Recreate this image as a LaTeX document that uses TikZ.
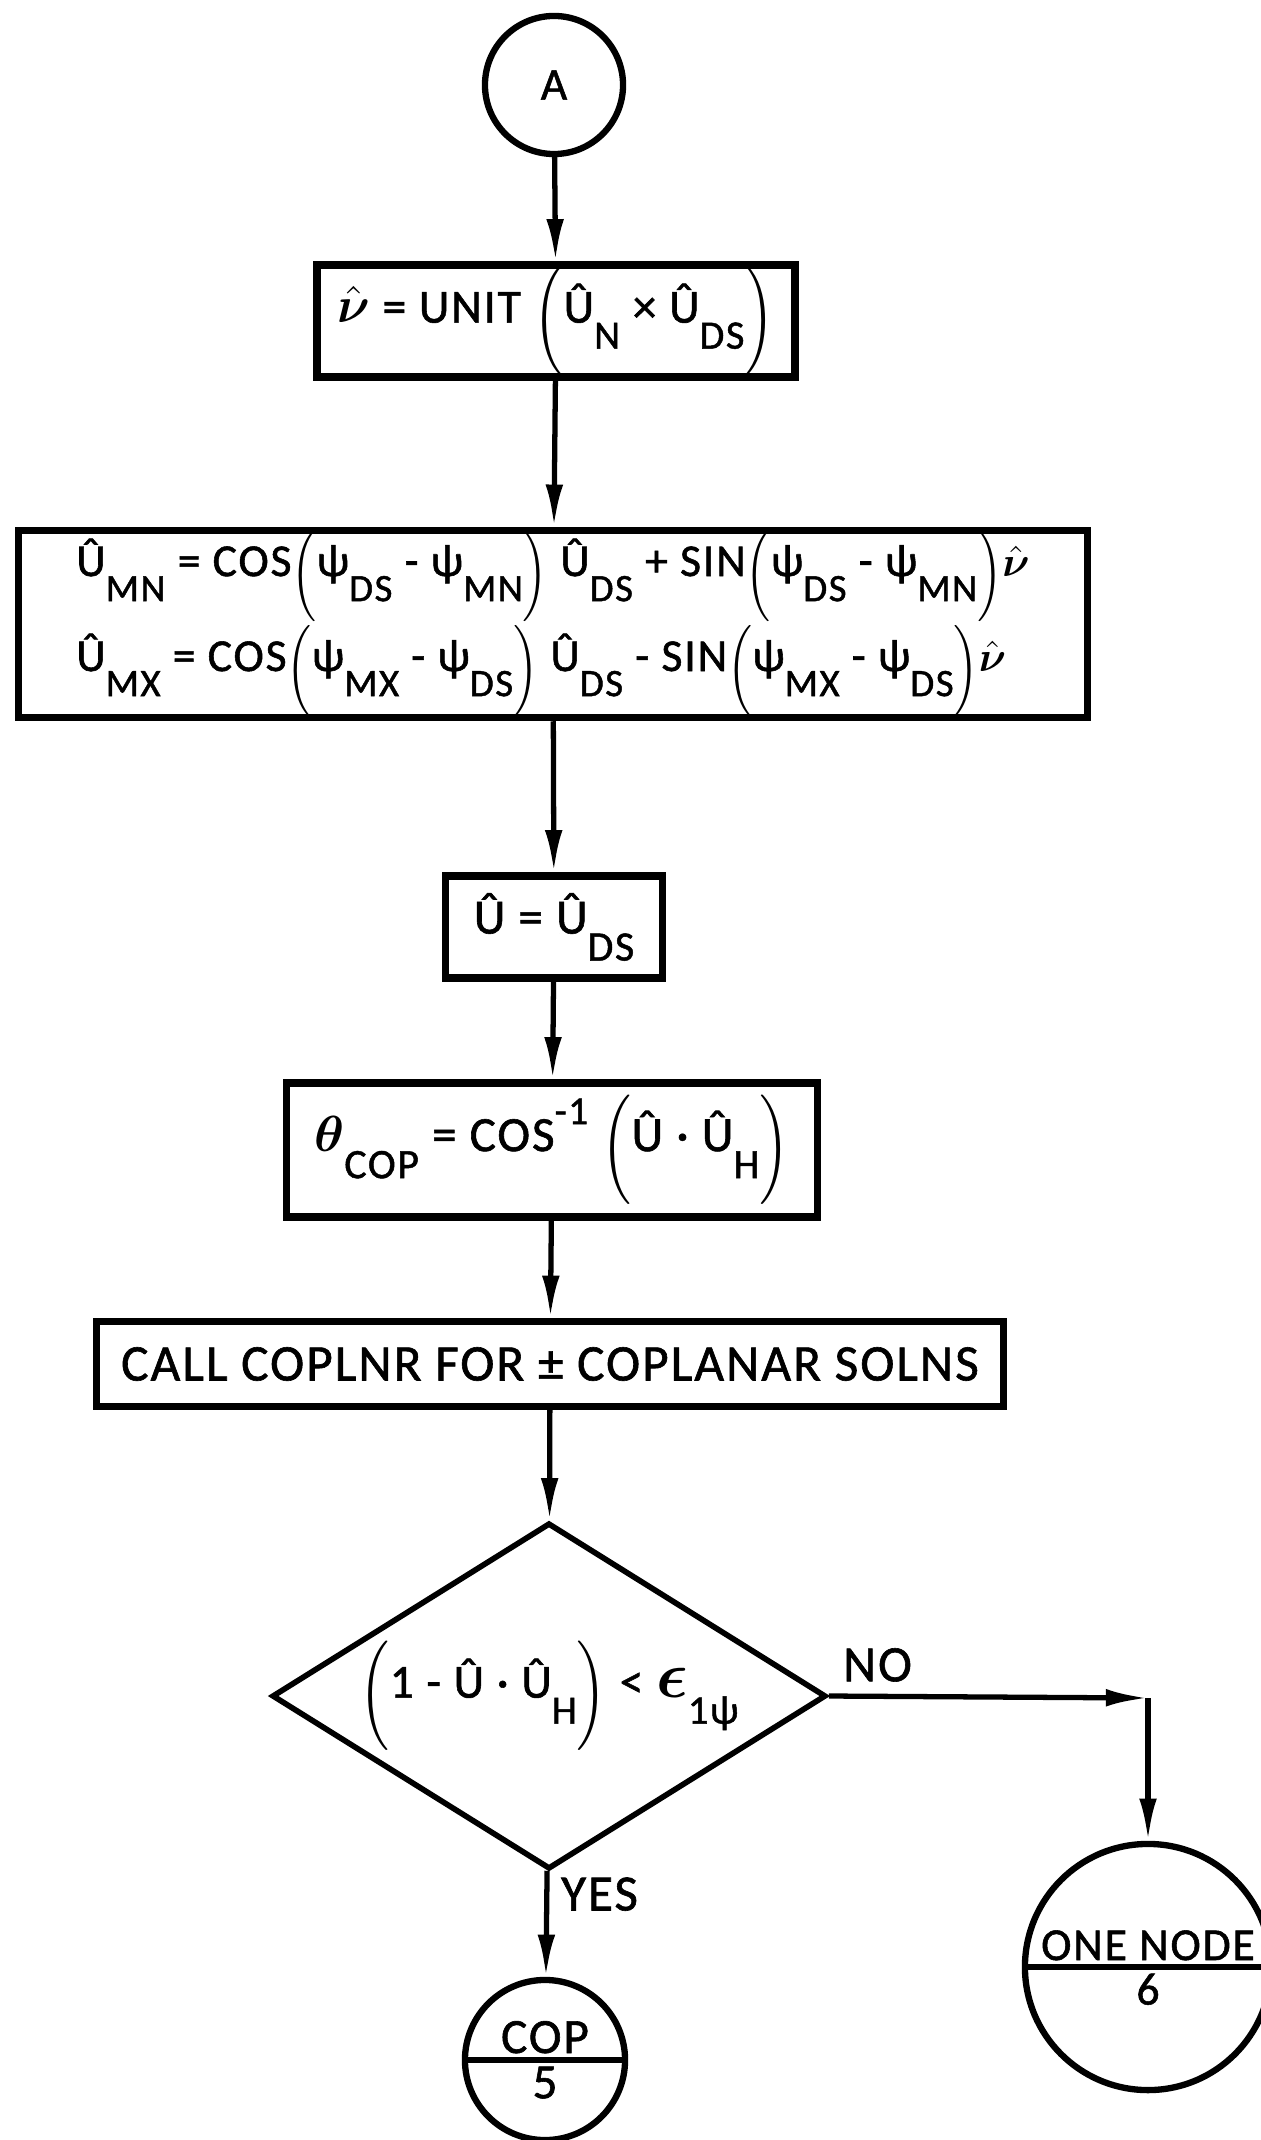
\documentclass[tikz,border=0pt]{standalone}
\usepackage{amsmath}
\usepackage{graphicx}
\usepackage{fontspec}
\setmainfont{Carlito}[LetterSpace=4,FakeBold=1.2]
\usetikzlibrary{arrows.meta,shapes.geometric,shapes.multipart}

% lowered subscripts, raised exponents, tall parentheses, hatted vectors
\newcommand{\lowidx}[1]{\raisebox{-1.15ex}{\scalebox{.85}{#1}}}
\newcommand{\upidx}[1]{\raisebox{1.15ex}{\scalebox{.8}{#1}}}
\newcommand{\lpar}{\raisebox{-.6ex}{\scalebox{1}[1.2]{$\Bigl($}}}
\newcommand{\rpar}{\raisebox{-.6ex}{\scalebox{1}[1.2]{$\Bigr)$}}}
\newcommand{\uh}{Û}
\newcommand{\nuh}{$\hat{\boldsymbol{\nu}}$}

\begin{document}
\begin{tikzpicture}[x=0.01cm,y=-0.01cm,
	box/.style={shape=rectangle,draw=black,line width=2.1pt,inner sep=0pt},
	term/.style={draw=black,line width=1.8pt,inner sep=1pt},
	flow/.style={-{Latex[length=12pt,width=5pt]},line width=1.5pt}]
	
	\useasboundingbox (0,0) rectangle (1261,2140);
	
	\node[term,shape=circle,minimum size=1.38cm,font=\fontsize{13}{15}\selectfont] (a) at (554,85) {A};
	\node[box,minimum width=4.78cm,minimum height=1.12cm,font=\fontsize{13.5}{16}\selectfont] (unit) at (556,321)
		{\nuh{} = UNIT \lpar\uh\lowidx{N} × \uh\lowidx{DS}\rpar};
	\node[box,minimum width=10.68cm,minimum height=1.87cm,align=left,font=\fontsize{13}{27}\selectfont] (rot) at (553,624)
		{\uh\lowidx{MN} = COS\lpar ψ\lowidx{DS} - ψ\lowidx{MN}\rpar{} \uh\lowidx{DS} + SIN\lpar ψ\lowidx{DS} - ψ\lowidx{MN}\rpar\nuh\\
		 \uh\lowidx{MX} = COS\lpar ψ\lowidx{MX} - ψ\lowidx{DS}\rpar{} \uh\lowidx{DS} - SIN\lpar ψ\lowidx{MX} - ψ\lowidx{DS}\rpar\nuh};
	\node[box,minimum width=2.17cm,minimum height=1.02cm,font=\fontsize{14}{17}\selectfont] (ueq) at (554,927)
		{\uh{} = \uh\lowidx{DS}};
	\node[box,minimum width=5.31cm,minimum height=1.34cm,font=\fontsize{14}{17}\selectfont] (ang) at (552,1150)
		{$\boldsymbol{\theta}$\lowidx{COP} = COS\upidx{-1} \lpar\uh{} · \uh\lowidx{H}\rpar};
	\node[box,minimum width=9.07cm,minimum height=0.85cm,font=\fontsize{14.6}{17}\selectfont] (call) at (550,1364)
		{CALL COPLNR FOR ± COPLANAR SOLNS};
	\node[shape=diamond,draw=black,line width=1.6pt,aspect=1.6,inner sep=0pt,minimum width=5.1cm,minimum height=3.14cm,font=\fontsize{13.5}{16}\selectfont] (test) at (549,1696)
		{\lpar 1 - \uh{} · \uh\lowidx{H}\rpar{} < \scalebox{1.3}{$\boldsymbol{\epsilon}$}\lowidx{1ψ}};
	\node[term,shape=circle split,minimum size=1.6cm,font=\fontsize{14}{16}\selectfont] (cop) at (545,2060) {COP\nodepart{lower}5};
	\node[term,shape=circle split,minimum size=2.46cm,font=\fontsize{13}{15}\selectfont] (one) at (1148,1967) {ONE NODE\nodepart{lower}6};
	\coordinate (bend) at (1148,1698);
	
	\path[flow] (a) edge (unit);
	\path[flow] (unit) edge (rot);
	\path[flow] (rot) edge (ueq);
	\path[flow] (ueq) edge (ang);
	\path[flow] (ang) edge (call);
	\path[flow] (call) edge (test);
	\path[flow] (test) edge node[pos=0.22,right,font=\fontsize{14.5}{16}\selectfont]{YES} (cop);
	\path[flow] (test.east) edge node[pos=0,above right,font=\fontsize{14.5}{16}\selectfont]{NO} (bend);
	\path[flow] (bend) edge (one);
	
\end{tikzpicture}
\end{document}
